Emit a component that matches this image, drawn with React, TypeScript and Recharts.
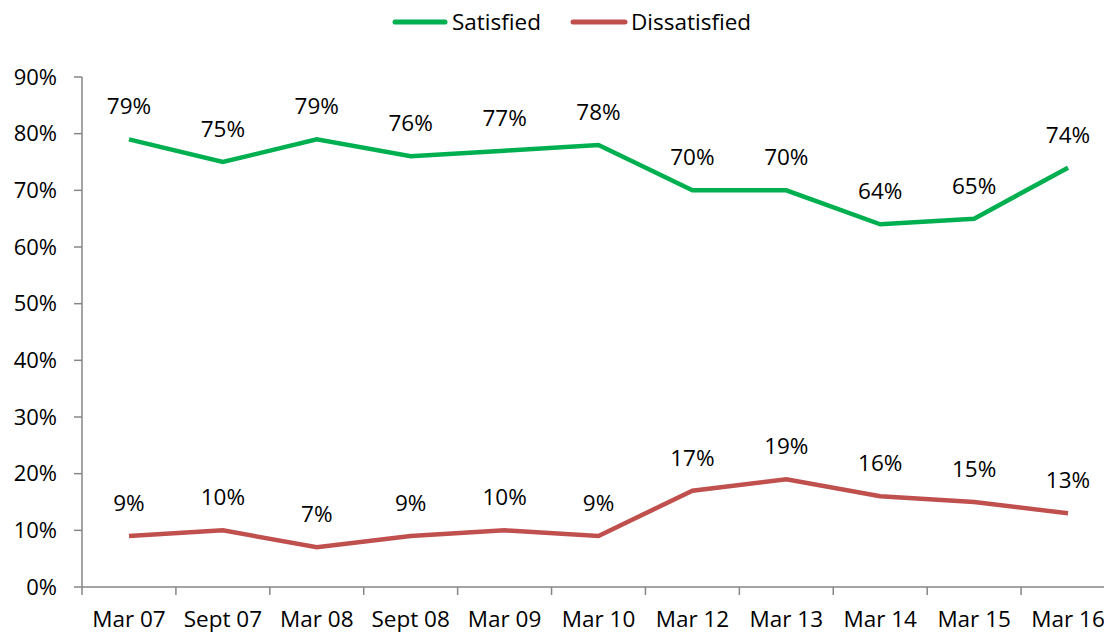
import React from 'react'
import { LineChart, Line, XAxis, YAxis, Legend, LabelList } from 'recharts'

const periods = ['Mar 07', 'Sept 07', 'Mar 08', 'Sept 08', 'Mar 09', 'Mar 10', 'Mar 12', 'Mar 13', 'Mar 14', 'Mar 15', 'Mar 16']
const satisfied = [79, 75, 79, 76, 77, 78, 70, 70, 64, 65, 74]
const dissatisfied = [9, 10, 7, 9, 10, 9, 17, 19, 16, 15, 13]
const yTicks = [0, 10, 20, 30, 40, 50, 60, 70, 80, 90]

const GREEN = '#00B050'
const RED = '#C0504D'
const AXIS = '#868686'
const FONT = '"Open Sans", sans-serif'

const data = periods.map((period, i) => ({
  period,
  satisfied: satisfied[i],
  dissatisfied: dissatisfied[i],
}))

// band ticks: label in the middle, tick marks on the category boundaries
function PeriodTick(props: any) {
  const { x, y, payload, index } = props
  const half = payload?.offset ?? 47
  const last = index === periods.length - 1
  return (
    <g>
      <line x1={x - half} x2={x - half} y1={y - 8} y2={y} stroke={AXIS} strokeWidth={1.5} />
      {last && <line x1={x + half} x2={x + half} y1={y - 8} y2={y} stroke={AXIS} strokeWidth={1.5} />}
      <text x={x} y={y + 32} textAnchor="middle" fill="#000" fontSize={22.5} fontFamily={FONT}>
        {payload.value}
      </text>
    </g>
  )
}

function TopLegend() {
  return (
    <svg width={1104} height={44}>
      <line x1={395} x2={445} y1={22} y2={22} stroke={GREEN} strokeWidth={5} strokeLinecap="round" />
      <text x={452} y={30} fontSize={22.5} fontFamily={FONT} fill="#000">Satisfied</text>
      <line x1={573} x2={625} y1={22} y2={22} stroke={RED} strokeWidth={5} strokeLinecap="round" />
      <text x={631} y={30} fontSize={22.5} fontFamily={FONT} fill="#000">Dissatisfied</text>
    </svg>
  )
}

export default function App() {
  return (
    <div
      style={{
        position: 'absolute',
        top: 0,
        left: 0,
        width: 1104,
        height: 635,
        overflow: 'hidden',
        background: '#fff',
        fontFamily: FONT,
      }}
    >
      <LineChart width={1130} height={635} data={data} margin={{ top: 33, right: 15, left: 0, bottom: 0 }}>
        <Legend
          verticalAlign="top"
          content={<TopLegend />}
          wrapperStyle={{ top: 0, left: 0, width: 1104, height: 44 }}
        />
        <XAxis
          dataKey="period"
          scale="band"
          height={48}
          axisLine={{ stroke: AXIS, strokeWidth: 1.5 }}
          tickLine={false}
          tickSize={8}
          tickMargin={0}
          interval={0}
          tick={<PeriodTick />}
        />
        <YAxis
          width={82}
          domain={[0, 90]}
          ticks={yTicks}
          interval={0}
          tickFormatter={(v) => `${v}%`}
          axisLine={{ stroke: AXIS, strokeWidth: 1.5 }}
          tickLine={{ stroke: AXIS, strokeWidth: 1.5 }}
          tickSize={8}
          tickMargin={17}
          tick={{ fill: '#000', fontSize: 22, fontFamily: FONT }}
        />
        <Line
          type="linear"
          dataKey="satisfied"
          name="Satisfied"
          stroke={GREEN}
          strokeWidth={4.5}
          dot={false}
          isAnimationActive={false}
        >
          <LabelList
            dataKey="satisfied"
            position="top"
            offset={25}
            formatter={(v: any) => `${v}%`}
            fill="#000"
            fontSize={22.5}
            fontFamily={FONT}
          />
        </Line>
        <Line
          type="linear"
          dataKey="dissatisfied"
          name="Dissatisfied"
          stroke={RED}
          strokeWidth={4.5}
          dot={false}
          isAnimationActive={false}
        >
          <LabelList
            dataKey="dissatisfied"
            position="top"
            offset={25}
            formatter={(v: any) => `${v}%`}
            fill="#000"
            fontSize={22.5}
            fontFamily={FONT}
          />
        </Line>
      </LineChart>
    </div>
  )
}
